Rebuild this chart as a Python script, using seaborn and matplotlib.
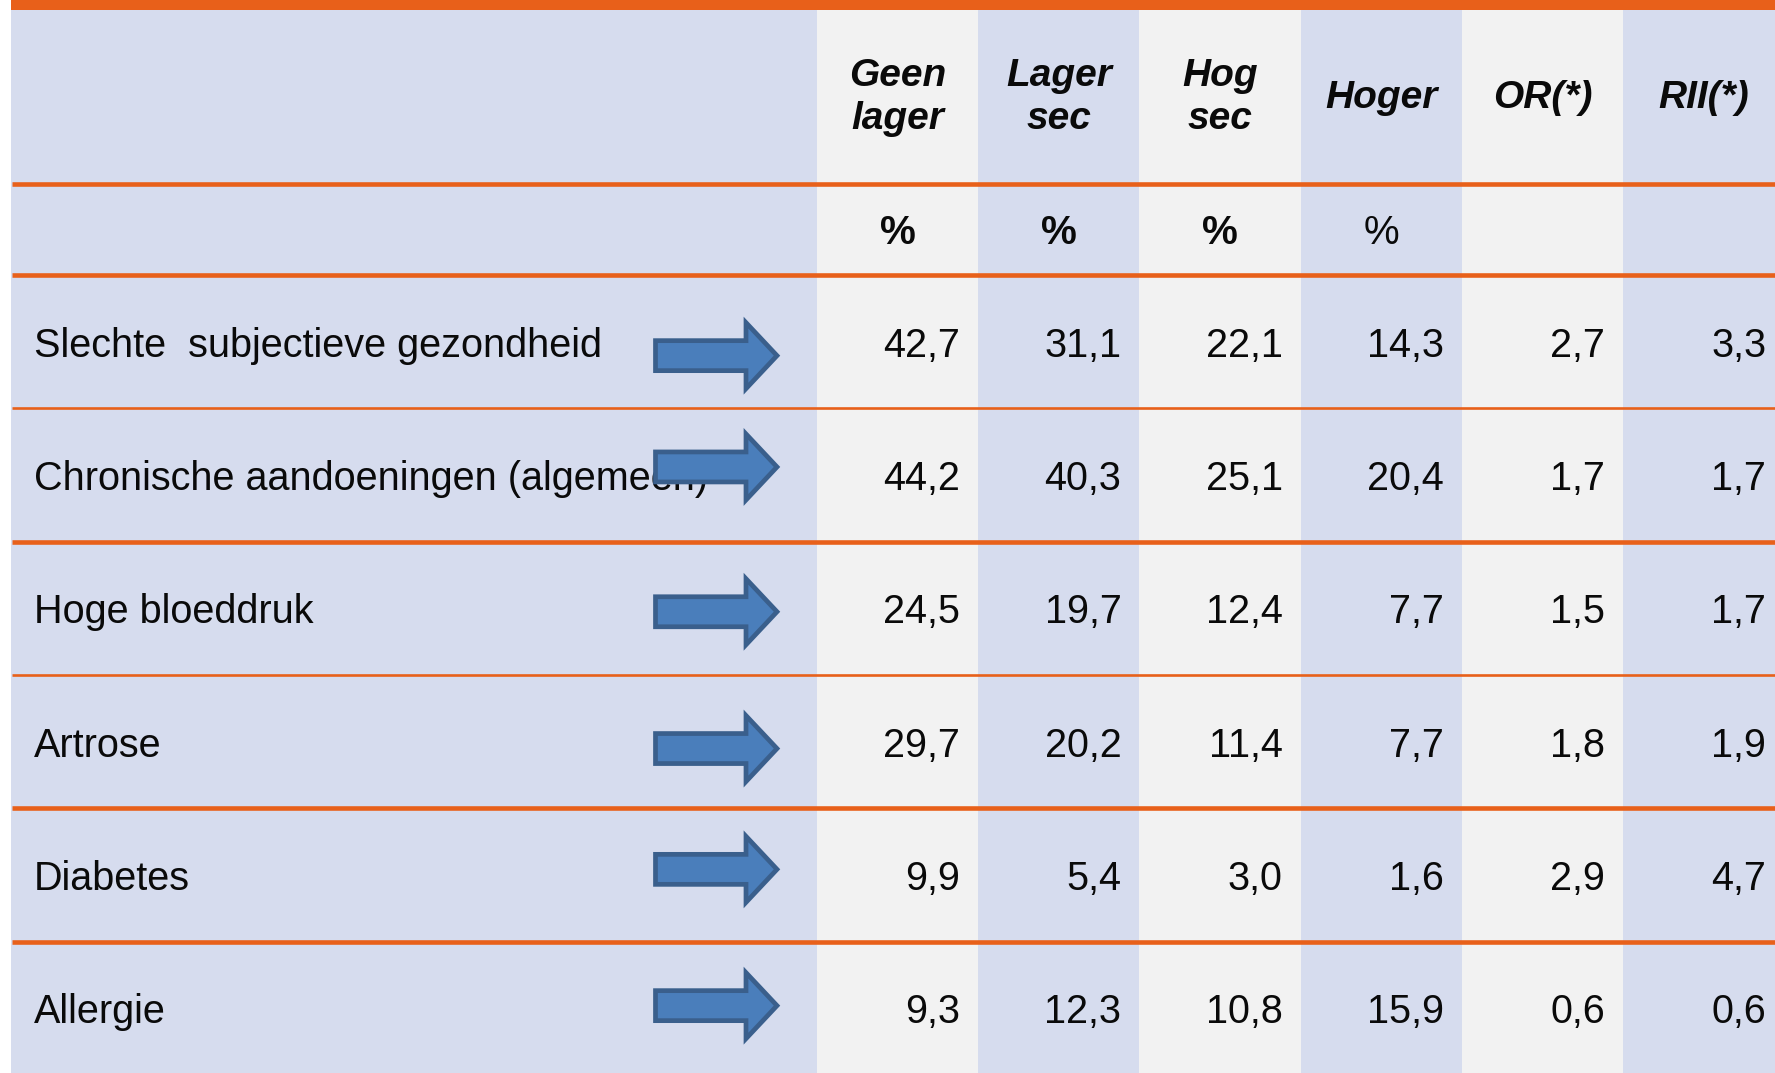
import numpy as np
import pandas as pd
import matplotlib
matplotlib.use("Agg")
import matplotlib.pyplot as plt
from matplotlib.colors import ListedColormap
from matplotlib.patches import Polygon, Rectangle
import seaborn as sns

# ---------------- data ----------------
categories = [
    "Slechte  subjectieve gezondheid",
    "Chronische aandoeningen (algemeen)",
    "Hoge bloeddruk",
    "Artrose",
    "Diabetes",
    "Allergie",
]
column_labels = ["Geen\nlager", "Lager\nsec", "Hog\nsec", "Hoger", "OR(*)", "RII(*)"]
unit_labels = ["%", "%", "%", "%", "", ""]
geen_lager = [42.7, 44.2, 24.5, 29.7, 9.9, 9.3]
lager_sec = [31.1, 40.3, 19.7, 20.2, 5.4, 12.3]
hog_sec = [22.1, 25.1, 12.4, 11.4, 3.0, 10.8]
hoger = [14.3, 20.4, 7.7, 7.7, 1.6, 15.9]
odds_ratio = [2.7, 1.7, 1.5, 1.8, 2.9, 0.6]
rii = [3.3, 1.7, 1.7, 1.9, 4.7, 0.6]

table = pd.DataFrame(
    {c: v for c, v in zip(column_labels,
                          [geen_lager, lager_sec, hog_sec, hoger, odds_ratio, rii])},
    index=categories,
)

# ---------------- style ----------------
sns.set_theme(style="white")
plt.rcParams["font.family"] = ["Liberation Sans", "DejaVu Sans"]

ORANGE = "#E8601A"
LAVENDER = "#D6DCEE"
GRAY = "#F2F2F2"
ARROW_FILL = "#4A7EBB"
ARROW_EDGE = "#3A5F8C"
TXT = "#0A0A0A"

W, H = 1775, 1073
fig = plt.figure(figsize=(W / 100, H / 100), dpi=100)

# layout (pixel units)
left = 11
unit_w = 161.2
first_units = 5
top = 9
col_edges = [left + first_units * unit_w + i * unit_w for i in range(len(column_labels) + 1)]
header_bottom = 184
units_bottom = 275
row_h = 133.3
row_edges = [units_bottom + i * row_h for i in range(len(categories) + 1)]

# ---------------- column shading via seaborn heatmap ----------------
n_units = first_units + len(column_labels)
shade = np.array([[1] * first_units + [(i % 2) for i in range(len(column_labels))]])
bg_ax = fig.add_axes([left / W, 0, n_units * unit_w / W, (H - top) / H])
sns.heatmap(shade, cmap=ListedColormap([GRAY, LAVENDER]), vmin=0, vmax=1,
            cbar=False, ax=bg_ax, xticklabels=False, yticklabels=False)
bg_ax.set_axis_off()

# ---------------- overlay in pixel coordinates ----------------
ax = fig.add_axes([0, 0, 1, 1])
ax.set_xlim(0, W)
ax.set_ylim(H, 0)
ax.set_axis_off()
ax.patch.set_alpha(0)

# top orange bar
ax.add_patch(Rectangle((left, 0), W - left, top + 1, color=ORANGE, lw=0, zorder=3))

# horizontal rules
thick = [header_bottom, units_bottom, row_edges[2], row_edges[4], row_edges[5]]
thin = [row_edges[1], row_edges[3]]
for y in thick:
    ax.plot([left + 1, W], [y, y], color=ORANGE, lw=3.3, solid_capstyle="butt", zorder=3)
for y in thin:
    ax.plot([left + 1, W], [y, y], color=ORANGE, lw=1.9, solid_capstyle="butt", zorder=3)

FS = 28.5
# header
header_mid = (top + header_bottom) / 2
for j, lab in enumerate(column_labels):
    cx = (col_edges[j] + col_edges[j + 1]) / 2
    ax.text(cx, header_mid + 1, lab, ha="center", va="center", fontsize=28,
            fontweight="bold", fontstyle="italic", color=TXT, linespacing=1.28, zorder=4)

# units row
units_mid = (header_bottom + units_bottom) / 2
for j, u in enumerate(unit_labels):
    if not u:
        continue
    cx = (col_edges[j] + col_edges[j + 1]) / 2
    ax.text(cx, units_mid + 15, u, ha="center", va="baseline", fontsize=29,
            fontweight="bold" if j < 3 else "normal", color=TXT, zorder=4)

# body rows
cap_half = 15
arrow_dy = [14, -8, 3.5, 7, -5.5, -2.5]
for i, cat in enumerate(categories):
    cy = (row_edges[i] + row_edges[i + 1]) / 2
    ax.text(34, cy + cap_half, cat, ha="left", va="baseline", fontsize=FS,
            color=TXT, zorder=4)
    for j, col in enumerate(table.columns):
        v = table.loc[cat, col]
        s = f"{v:.1f}".replace(".", ",")
        ax.text(col_edges[j + 1] - 18, cy + cap_half, s, ha="right", va="baseline",
                fontsize=FS, color=TXT, zorder=4)
    # block arrow
    ay = cy + arrow_dy[i]
    x0, xb, xt = 655.5, 746, 777
    bh, hh = 15, 33
    pts = [(x0, ay - bh), (xb, ay - bh), (xb, ay - hh), (xt, ay),
           (xb, ay + hh), (xb, ay + bh), (x0, ay + bh)]
    ax.add_patch(Polygon(pts, closed=True, facecolor=ARROW_FILL,
                         edgecolor=ARROW_EDGE, lw=3.4, joinstyle="miter", zorder=5))

fig.savefig("out.png", dpi=100)
